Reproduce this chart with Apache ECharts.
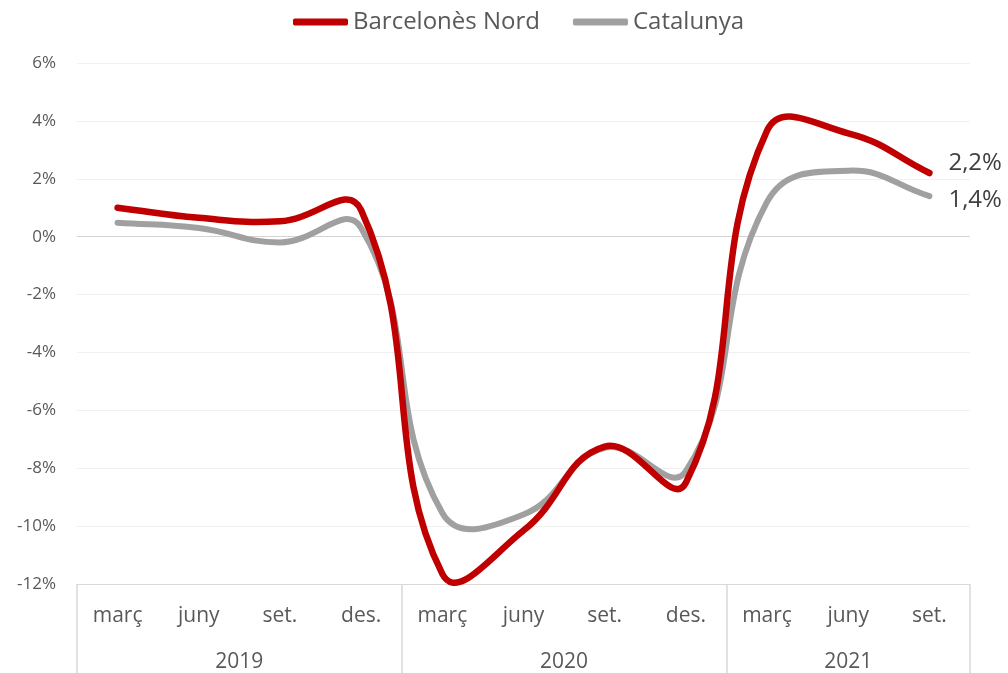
<!DOCTYPE html>
<html>
<head>
<meta charset="utf-8">
<script src="https://cdn.jsdelivr.net/npm/echarts@6/dist/echarts.min.js"></script>
<style>
  html, body { margin: 0; padding: 0; background: #fff; }
  #chart { width: 1008px; height: 673px; }
</style>
</head>
<body>
<div id="chart"></div>
<script>
const quarters = ['març', 'juny', 'set.', 'des.', 'març', 'juny', 'set.', 'des.', 'març', 'juny', 'set.'];
const years = ['2019', '2020', '2021'];
const quartersPerYear = [4, 4, 3];
const barcelonesNord = [1.0, 0.65, 0.53, 0.92, -11.65, -10.15, -7.25, -8.5, 3.66, 3.57, 2.2];
const catalunya = [0.48, 0.3, -0.2, 0.3, -9.55, -9.6, -7.3, -8.1, 1.2, 2.28, 1.4];
const yTicks = [-12, -10, -8, -6, -4, -2, 0, 2, 4, 6];

// second axis: half-category slots so year labels and separators line up
const halfSlots = [];
for (let i = 0; i <= quarters.length * 2; i++) halfSlots.push('');
const separators = [];
let start = 0;
years.forEach((y, i) => {
  separators.push(start * 2);
  halfSlots[start * 2 + quartersPerYear[i]] = y;
  start += quartersPerYear[i];
});
separators.push(start * 2);

const pct = (v) => String(v).replace('.', ',') + '%';

// spreadsheet-style smoothing (bezier through every point, no clamping)
const SMOOTH = 0.45;
function smoothPath(pts) {
  const cps = pts.map((p, i) => {
    const prev = pts[i - 1] || p;
    const next = pts[i + 1] || p;
    const vx = next[0] - prev[0];
    const vy = next[1] - prev[1];
    const d0 = Math.hypot(p[0] - prev[0], p[1] - prev[1]);
    const d1 = Math.hypot(next[0] - p[0], next[1] - p[1]);
    const tot = d0 + d1 || 1;
    return [
      [p[0] - vx * SMOOTH * d0 / tot, p[1] - vy * SMOOTH * d0 / tot],
      [p[0] + vx * SMOOTH * d1 / tot, p[1] + vy * SMOOTH * d1 / tot],
    ];
  });
  let d = 'M' + pts[0][0] + ' ' + pts[0][1];
  for (let i = 0; i < pts.length - 1; i++) {
    const c1 = cps[i][1];
    const c2 = cps[i + 1][0];
    const p = pts[i + 1];
    d += ' C' + c1[0] + ' ' + c1[1] + ' ' + c2[0] + ' ' + c2[1] + ' ' + p[0] + ' ' + p[1];
  }
  return d;
}

function makeSeries(name, values, color, width, labelDy, z) {
  return {
    name: name,
    type: 'custom',
    coordinateSystem: 'cartesian2d',
    xAxisIndex: 0,
    yAxisIndex: 0,
    clip: false,
    z: z,
    itemStyle: { color: color },
    encode: { x: 0, y: 1 },
    data: values.map((v, i) => [i, v]),
    renderItem: (params, api) => {
      if (params.dataIndex !== 0) return null;
      const pts = values.map((v, i) => api.coord([i, v]));
      const last = pts[pts.length - 1];
      return {
        type: 'group',
        children: [
          {
            type: 'path',
            shape: { pathData: smoothPath(pts) },
            style: { fill: 'none', stroke: color, lineWidth: width, lineCap: 'round', lineJoin: 'round' },
          },
          {
            type: 'text',
            x: last[0] + 19,
            y: last[1] + labelDy,
            style: {
              text: pct(values[values.length - 1]),
              fill: '#404040',
              font: '24px "Open Sans"',
              verticalAlign: 'middle',
            },
          },
        ],
      };
    },
  };
}

const chart = echarts.init(document.getElementById('chart'));
chart.setOption({
  animation: false,
  textStyle: { fontFamily: 'Open Sans' },
  legend: {
    top: 5,
    left: 288,
    itemWidth: 55,
    itemHeight: 7,
    itemGap: 33,
    icon: 'roundRect',
    textStyle: { fontSize: 24, color: '#595959', fontFamily: 'Open Sans' },
    data: ['Barcelonès Nord', 'Catalunya'],
  },
  grid: { left: 77, right: 38, top: 63, bottom: 88, containLabel: false },
  xAxis: [
    {
      type: 'category',
      data: quarters,
      boundaryGap: true,
      axisLine: { show: false },
      axisTick: { show: false },
      axisLabel: { fontSize: 21, color: '#595959', margin: 22, interval: 0 },
    },
    {
      type: 'category',
      data: halfSlots,
      position: 'bottom',
      boundaryGap: false,
      axisLine: { show: true, onZero: false, lineStyle: { color: '#d9d9d9', width: 1 } },
      axisTick: {
        show: true,
        length: 92,
        interval: (idx) => separators.includes(idx),
        lineStyle: { color: '#d9d9d9', width: 1.5 },
      },
      axisLabel: { fontSize: 21, color: '#595959', margin: 68, interval: 0 },
    },
  ],
  yAxis: {
    type: 'value',
    min: yTicks[0],
    max: yTicks[yTicks.length - 1],
    interval: 2,
    axisLine: { show: false },
    axisTick: { show: false },
    axisLabel: { fontSize: 17, color: '#595959', margin: 21, formatter: (v) => v + '%' },
    splitLine: {
      lineStyle: { color: yTicks.map((v) => (v === 0 ? '#d4d4d4' : '#f0f0f0')), width: 1.2 },
    },
  },
  series: [
    makeSeries('Barcelonès Nord', barcelonesNord, '#c00000', 6.5, -10, 3),
    makeSeries('Catalunya', catalunya, '#a0a0a0', 6, 4, 2),
  ],
});
</script>
</body>
</html>
